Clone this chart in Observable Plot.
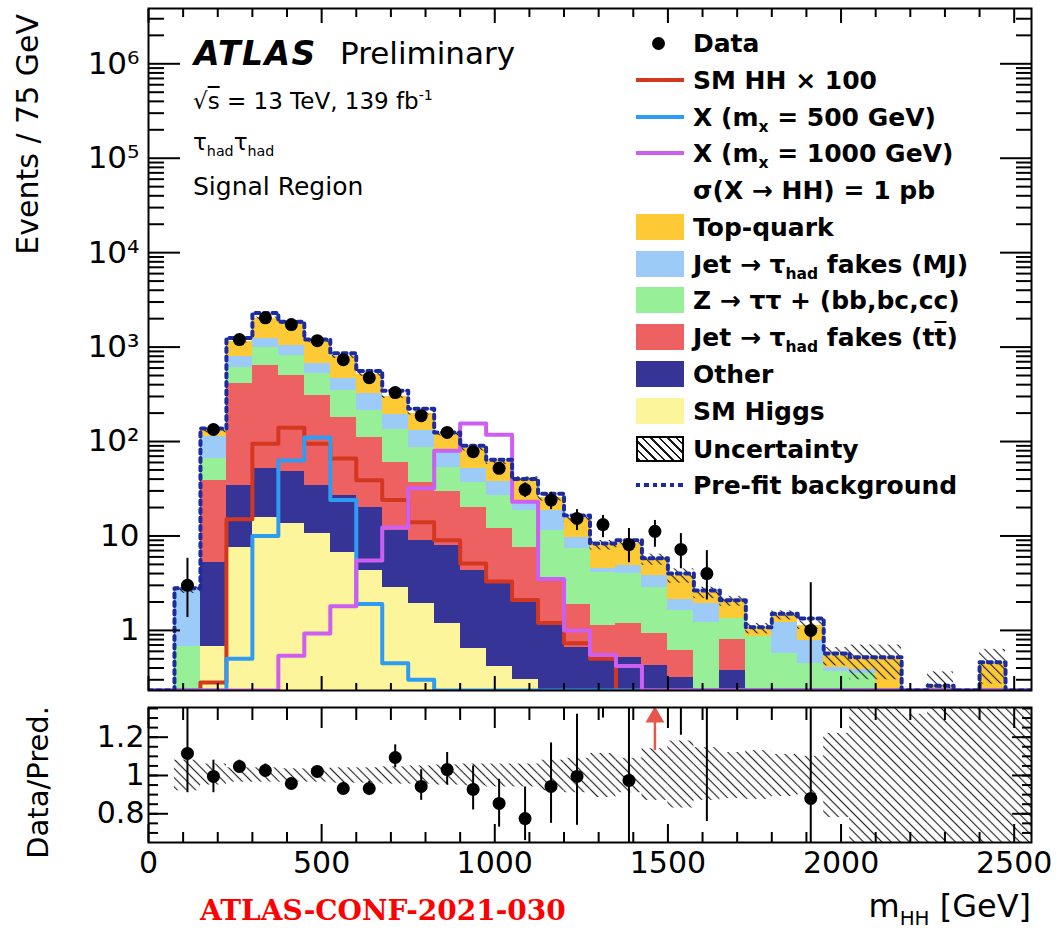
<!DOCTYPE html>
<html>
<head>
<meta charset="utf-8">
<script src="https://cdn.jsdelivr.net/npm/d3@7"></script>
<script src="https://cdn.jsdelivr.net/npm/@observablehq/plot@0.6"></script>
<style>
  html, body { margin:0; padding:0; background:#fff; }
  #chart { position:relative; width:1061px; height:931px; overflow:hidden; font-family:"DejaVu Sans", sans-serif; color:#000; }
  #chart svg { display:block; }
  .t { position:absolute; white-space:nowrap; line-height:1; }
  .t sub { font-size:0.62em; vertical-align:-0.4em; line-height:0; }
  .t sup { font-size:0.62em; vertical-align:0.6em; line-height:0; }
  .ov { text-decoration:overline; }
  .leg { font-weight:bold; font-size:25px; }
  .sw { position:absolute; }
</style>
</head>
<body>
<div id="chart"></div>
<script>
// ---------------- data (75 GeV bins, 0 - 2550 GeV) ----------------
const binWidth = 75;
const binLow = [0,75,150,225,300,375,450,525,600,675,750,825,900,975,1050,1125,1200,1275,1350,1425,1500,1575,1650,1725,1800,1875,1950,2025,2100,2175,2250,2325,2400,2475];

// background contributions (events per bin), bottom of stack first
const smHiggs    = [0,0,0.68,7.5,15.7,13.5,10.6,6.7,4.3,2.85,1.93,1.18,0.64,0.41,0.3,0,0,0,0,0,0,0,0,0,0,0,0,0,0,0,0,0,0,0];
const other      = [0,0,4.5,26.5,36,34.5,23.4,20.3,15.7,8.55,7.07,6.7,3.66,2.7,1.7,1.2,0.66,0.5,0.52,0.43,0.32,0,0.38,0,0,0,0,0,0,0,0,0,0,0];
const jetFakesTT = [0,0,33.8,376,588,452,276,153,90,48.6,28,22,15.7,8.9,5.6,2.4,1.24,0.63,0.66,0.5,0.29,0,0.42,0,0,0,0,0,0,0,0,0,0,0];
const zTauTau    = [0,0.68,27,200,350,310,215,165,105,75,49,23,17,15,11,7.8,5.5,3.0,2.8,1.9,1.02,1.2,0.55,0.87,0.57,0.45,0.37,0.35,0,0,0,0,0,0];
const jetFakesMJ = [0,2.0,47,180,250,230,145,120,105,60,45,23,15,11,4.1,7.2,2.2,0.4,0.9,1.0,0.47,0.73,0,0,0.65,0.33,0.03,0.04,0,0,0,0,0,0];
const topQuark   = [0,0,17,360,760,760,480,325,190,105,69,45,32,23,17.3,6.9,5.8,3.5,3.4,1.8,1.7,0.57,0.7,0.18,0.23,0.36,0.14,0.11,0.5,0,0.26,0,0.45,0];

// pre-fit total background
const preFit = [0,2.8,137,1250,2300,1850,1200,860,560,345,222,125,90,64,40,28,16.5,8.3,9.0,5.8,4.0,2.65,2.08,1.08,1.5,1.34,0.57,0.52,0.52,0,0.26,0,0.46,0];

// signals
const smHH100 = [0,0,0.28,15,95,140,95,66,39,24,14,9,5.1,3.3,2.1,1.2,0.73,0.5,0,0,0,0,0,0,0,0,0,0,0,0,0,0,0,0];
const xm500   = [0,0,0,0.5,10,63,110,24,1.9,0.45,0.3,0,0,0,0,0,0,0,0,0,0,0,0,0,0,0,0,0,0,0,0,0,0,0];
const xm1000  = [0,0,0,0,0,0.54,0.93,1.8,5.5,12.3,32,80,155,118,23,3.5,1.0,0.55,0.42,0,0,0,0,0,0,0,0,0,0,0,0,0,0,0];

// data
const dataEvents  = [null,3,134,1200,2040,1730,1170,735,475,330,188,125,78,52,31,24,15.3,13.2,8.1,11.2,7.2,4.0,null,null,null,1,null,null,null,null,null,null,null,null];
const dataErrLow  = [null,1.37,123,1165,1995,1690,1135,708,453,312,174,114,69,45,25.5,19,11.4,9.6,5.2,7.6,4.5,2.1,null,null,null,0.17,null,null,null,null,null,null,null,null];
const dataErrHigh = [null,5.8,146,1235,2085,1770,1205,762,497,348,202,136,87,59,36.5,29,19,16.5,12,14.6,10.6,7,null,null,null,3.2,null,null,null,null,null,null,null,null];

// ratio panel
const ratio        = [null,1.115,0.995,1.047,1.026,0.958,1.021,0.932,0.932,1.094,0.943,1.031,0.927,0.854,0.775,0.943,0.995,1.62,0.974,2.0,1.9,1.6,null,null,null,0.88,null,null,null,null,null,null,null,null];
const ratioErrLow  = [null,0.91,0.91,1.015,0.995,0.93,0.99,0.9,0.895,1.04,0.87,0.95,0.82,0.73,0.66,0.75,0.74,1.3,0.6,1.6,1.21,0.76,null,null,null,0.55,null,null,null,null,null,null,null,null];
const ratioErrHigh = [null,1.5,1.08,1.08,1.06,0.985,1.05,0.965,0.97,1.16,1.03,1.12,1.05,0.98,0.94,1.17,1.32,2.1,1.45,2.6,2.8,2.7,null,null,null,3.0,null,null,null,null,null,null,null,null];
const uncLow  = [null,0.92,0.95,0.965,0.965,0.965,0.965,0.96,0.96,0.955,0.955,0.95,0.945,0.94,0.94,0.92,0.91,0.885,0.91,0.87,0.83,0.87,0.88,0.875,0.89,0.9,0.78,0.6,0.6,0.6,0.6,0.6,0.6,0.6];
const uncHigh = [null,1.08,1.06,1.04,1.04,1.035,1.035,1.04,1.04,1.045,1.05,1.055,1.06,1.06,1.06,1.08,1.09,1.115,1.09,1.14,1.18,1.145,1.12,1.13,1.11,1.1,1.22,1.4,1.4,1.32,1.4,1.4,1.4,1.4];

// ticks
const xMajorTicks = [0,500,1000,1500,2000,2500];
const xTickLabels = ["0","500","1000","1500","2000","2500"];
const yMajorTicks = [1,10,100,1000,10000,100000,1000000];
const yTickLabels = ["1","10","10²","10³","10⁴","10⁵","10⁶"];
const ratioTicks = [0.8,1,1.2];
const ratioTickLabels = ["0.8","1","1.2"];

// legend
const legendLabels = [
  "Data",
  "SM HH &times; 100",
  "X (m<sub>x</sub> = 500 GeV)",
  "X (m<sub>x</sub> = 1000 GeV)",
  "&sigma;(X &rarr; HH) = 1 pb",
  "Top-quark",
  "Jet &rarr; &tau;<sub>had</sub> fakes (MJ)",
  "Z &rarr; &tau;&tau; + (bb,bc,cc)",
  "Jet &rarr; &tau;<sub>had</sub> fakes (t<span class='ov'>t</span>)",
  "Other",
  "SM Higgs",
  "Uncertainty",
  "Pre-fit background"
];

// ---------------- styling ----------------
const C = {
  higgs: "#fdf59b", other: "#363597", tt: "#ee6163", ztt: "#97ef97", mj: "#9ccbf8", top: "#fdc934",
  smhh: "#d4371f", x500: "#2f9cf4", x1000: "#cc5ff2", prefit: "#1c2b9e", arrow: "#e5574d"
};
const yMin = 0.231, yMax = 3.85e6, floorV = 1e-4;
const nB = binLow.length;

// ---------------- derived tables ----------------
const comps = [[smHiggs, C.higgs],[other, C.other],[jetFakesTT, C.tt],[zTauTau, C.ztt],[jetFakesMJ, C.mj],[topQuark, C.top]];
const cum = new Array(nB).fill(0);
const stackMarks = comps.map(([vals, color]) => {
  const rows = [];
  for (let i = 0; i < nB; i++) {
    const v = vals[i];
    if (v > 0) {
      rows.push({x1: binLow[i], x2: binLow[i] + binWidth, y1: Math.max(cum[i], floorV), y2: cum[i] + v});
      cum[i] += v;
    }
  }
  return Plot.rect(rows, {x1: "x1", x2: "x2", y1: "y1", y2: "y2", fill: color, shapeRendering: "crispEdges"});
});
const total = cum.slice();

const mainHatch = [];
for (let i = 0; i < nB; i++) if (total[i] > 0 && uncLow[i] != null)
  mainHatch.push({x1: binLow[i], x2: binLow[i] + binWidth, y1: total[i] * uncLow[i], y2: total[i] * uncHigh[i]});

function steps(vals) {
  const pts = [];
  for (let i = 0; i < nB; i++) {
    const v = Math.max(vals[i], floorV);
    pts.push({x: binLow[i], y: v}, {x: binLow[i] + binWidth, y: v});
  }
  return pts;
}

const dataPts = [];
for (let i = 0; i < nB; i++) if (dataEvents[i] != null)
  dataPts.push({x: binLow[i] + binWidth / 2, y: dataEvents[i], lo: Math.max(dataErrLow[i], floorV), hi: dataErrHigh[i]});

const ratioPts = [];
for (let i = 0; i < nB; i++) if (ratio[i] != null)
  ratioPts.push({x: binLow[i] + binWidth / 2, y: ratio[i], lo: ratioErrLow[i], hi: ratioErrHigh[i]});
const ratioBand = [];
for (let i = 0; i < nB; i++) if (uncLow[i] != null)
  ratioBand.push({x1: binLow[i], x2: binLow[i] + binWidth, y1: uncLow[i], y2: uncHigh[i]});

const rMin = 0.65, rMax = 1.355;
const arrowPts = ratioPts.filter(d => d.lo > rMax).map(d => ({x: d.x, from: 1.13, to: 1.29, head: 1.305}));

const yMinor = [];
for (let e = -1; e <= 6; e++) for (let m = 2; m <= 9; m++) { const v = m * Math.pow(10, e); if (v > yMin && v < yMax) yMinor.push(v); }
const xMinor = d3.range(100, 2551, 100).filter(v => v % 500 !== 0);
const rMinor = d3.range(0.7, 1.351, 0.05).map(v => +v.toFixed(2));

const fontStyle = {fontFamily: "DejaVu Sans", fontSize: "30px", color: "black", background: "white", overflow: "visible"};

// ---------------- main panel ----------------
const main = Plot.plot({
  width: 1061, height: 700,
  marginLeft: 148, marginRight: 30, marginTop: 8, marginBottom: 10,
  style: fontStyle,
  x: {domain: [0, 2550], label: null},
  y: {type: "log", domain: [yMin, yMax], clamp: true, label: null},
  marks: [
    ...stackMarks,
    Plot.rect(mainHatch, {x1: "x1", x2: "x2", y1: "y1", y2: "y2", fill: "url(#hatchMain)", clip: true}),
    Plot.line(steps(smHH100), {x: "x", y: "y", stroke: C.smhh, strokeWidth: 4, clip: true}),
    Plot.line(steps(xm500), {x: "x", y: "y", stroke: C.x500, strokeWidth: 4, clip: true}),
    Plot.line(steps(xm1000), {x: "x", y: "y", stroke: C.x1000, strokeWidth: 4, clip: true}),
    Plot.line(steps(preFit), {x: "x", y: "y", stroke: C.prefit, strokeWidth: 4, strokeDasharray: "4,4.5", clip: true}),
    Plot.ruleX(dataPts, {x: "x", y1: "lo", y2: "hi", stroke: "black", strokeWidth: 2, clip: true}),
    Plot.dot(dataPts, {x: "x", y: "y", r: 6.5, fill: "black", stroke: "none"}),
    Plot.frame({stroke: "black", strokeWidth: 2}),
    // axes (ticks pointing inwards)
    Plot.axisY({anchor: "left", ticks: yMajorTicks, tickSize: -32, strokeWidth: 2, fill: "none", label: null}),
    Plot.axisY({anchor: "left", ticks: yMinor, tickSize: -16, strokeWidth: 2, fill: "none", label: null}),
    Plot.axisY({anchor: "right", ticks: yMajorTicks, tickSize: -32, strokeWidth: 2, fill: "none", label: null}),
    Plot.axisY({anchor: "right", ticks: yMinor, tickSize: -16, strokeWidth: 2, fill: "none", label: null}),
    Plot.axisY({anchor: "left", ticks: yMajorTicks, tickSize: 0, tickPadding: 9, fontSize: 31,
      tickFormat: d => yTickLabels[yMajorTicks.indexOf(d)], label: null}),
    Plot.axisX({anchor: "bottom", ticks: xMajorTicks, tickSize: -14, strokeWidth: 2, fill: "none", label: null}),
    Plot.axisX({anchor: "bottom", ticks: xMinor, tickSize: -7, strokeWidth: 2, fill: "none", label: null}),
    Plot.axisX({anchor: "top", ticks: xMajorTicks, tickSize: -14, strokeWidth: 2, fill: "none", label: null}),
    Plot.axisX({anchor: "top", ticks: xMinor, tickSize: -8, strokeWidth: 2, fill: "none", label: null})
  ]
});

// ---------------- ratio panel ----------------
const ratioPlot = Plot.plot({
  width: 1061, height: 231,
  marginLeft: 148, marginRight: 30, marginTop: 7, marginBottom: 89,
  style: fontStyle,
  x: {domain: [0, 2550], label: null},
  y: {domain: [rMin, rMax], label: null},
  marks: [
    Plot.rect(ratioBand, {x1: "x1", x2: "x2", y1: "y1", y2: "y2", fill: "url(#hatchRatio)", clip: true}),
    Plot.ruleX(ratioPts, {x: "x", y1: "lo", y2: "hi", stroke: "black", strokeWidth: 2, clip: true}),
    Plot.dot(ratioPts, {x: "x", y: "y", r: 6.5, fill: "black", stroke: "none", clip: true}),
    Plot.ruleX(arrowPts, {x: "x", y1: "from", y2: "to", stroke: C.arrow, strokeWidth: 2.5}),
    Plot.dot(arrowPts, {x: "x", y: "head", symbol: "triangle", r: 7, fill: C.arrow, stroke: "none"}),
    Plot.frame({stroke: "black", strokeWidth: 2}),
    Plot.axisY({anchor: "left", ticks: ratioTicks, tickSize: -20, strokeWidth: 2, fill: "none", label: null}),
    Plot.axisY({anchor: "left", ticks: rMinor, tickSize: -10, strokeWidth: 2, fill: "none", label: null}),
    Plot.axisY({anchor: "right", ticks: ratioTicks, tickSize: -20, strokeWidth: 2, fill: "none", label: null}),
    Plot.axisY({anchor: "right", ticks: rMinor, tickSize: -10, strokeWidth: 2, fill: "none", label: null}),
    Plot.axisY({anchor: "left", ticks: ratioTicks, tickSize: 0, tickPadding: 4, fontSize: 30,
      tickFormat: d => ratioTickLabels[ratioTicks.indexOf(d)], label: null}),
    Plot.axisX({anchor: "bottom", ticks: xMajorTicks, tickSize: -18, strokeWidth: 2, fill: "none", label: null}),
    Plot.axisX({anchor: "bottom", ticks: xMinor, tickSize: -10, strokeWidth: 2, fill: "none", label: null}),
    Plot.axisX({anchor: "top", ticks: xMajorTicks, tickSize: -20, strokeWidth: 2, fill: "none", label: null}),
    Plot.axisX({anchor: "top", ticks: xMinor, tickSize: -12, strokeWidth: 2, fill: "none", label: null}),
    Plot.axisX({anchor: "bottom", ticks: xMajorTicks, tickSize: 0, tickPadding: 9, fontSize: 30,
      tickFormat: d => xTickLabels[xMajorTicks.indexOf(d)], label: null})
  ]
});

function addHatch(svg, id) {
  const defs = d3.select(svg).insert("defs", ":first-child");
  const p = defs.append("pattern").attr("id", id).attr("patternUnits", "userSpaceOnUse")
    .attr("width", 6.5).attr("height", 6.5).attr("patternTransform", "rotate(-45)");
  p.append("line").attr("x1", 3.25).attr("y1", -1).attr("x2", 3.25).attr("y2", 7.5)
    .attr("stroke", "#222").attr("stroke-width", 1.15);
}
addHatch(main, "hatchMain");
addHatch(ratioPlot, "hatchRatio");

const chart = document.getElementById("chart");
chart.appendChild(main);
chart.appendChild(ratioPlot);

// ---------------- text overlays ----------------
function addText(html, style, cls) {
  const d = document.createElement("div");
  d.className = "t" + (cls ? " " + cls : "");
  d.innerHTML = html;
  Object.assign(d.style, style);
  chart.appendChild(d);
  return d;
}
addText("<b><i>ATLAS</i></b>", {left: "194px", top: "37px", fontSize: "33px", letterSpacing: "1.5px"});
addText("Preliminary", {left: "340px", top: "38px", fontSize: "31px"});
addText("&radic;<span class='ov'>s</span> = 13 TeV, 139 fb<sup>-1</sup>", {left: "193px", top: "90px", fontSize: "23px"});
addText("&tau;<sub>had</sub>&tau;<sub>had</sub>", {left: "193px", top: "131px", fontSize: "23px"});
addText("Signal Region", {left: "193px", top: "174px", fontSize: "25px"});

// axis titles
addText("Events / 75 GeV", {left: "13px", top: "14px", fontSize: "30px", writingMode: "vertical-rl", transform: "rotate(180deg)"});
addText("Data/Pred.", {left: "24px", top: "706px", fontSize: "29px", writingMode: "vertical-rl", transform: "rotate(180deg)"});
addText("m<sub>HH</sub> [GeV]", {right: "30px", top: "890px", fontSize: "32px"});
addText("ATLAS-CONF-2021-030", {left: "200px", top: "897px", fontSize: "28px", fontFamily: "'DejaVu Serif', serif", fontWeight: "bold", color: "#ff0000"});

// legend
const legendY = [43, 80, 117, 153, 190, 227, 264, 300, 337, 374, 411, 449, 485];
const legendKind = ["dot","line","line","line","none","box","box","box","box","box","box","hatch","dotted"];
const legendColor = [null, C.smhh, C.x500, C.x1000, null, C.top, C.mj, C.ztt, C.tt, C.other, C.higgs, null, C.prefit];
legendLabels.forEach((lab, i) => {
  const cy = legendY[i];
  const k = legendKind[i];
  const sw = document.createElement("div");
  sw.className = "sw";
  if (k === "dot") {
    Object.assign(sw.style, {left: (658 - 6.5) + "px", top: (cy - 6.5) + "px", width: "13px", height: "13px", borderRadius: "50%", background: "#000"});
  } else if (k === "line") {
    Object.assign(sw.style, {left: "636px", top: (cy - 2) + "px", width: "48px", height: "4px", background: legendColor[i]});
  } else if (k === "box") {
    Object.assign(sw.style, {left: "636px", top: (cy - 13) + "px", width: "48px", height: "26px", background: legendColor[i]});
  } else if (k === "hatch") {
    Object.assign(sw.style, {left: "636px", top: (cy - 13) + "px", width: "44px", height: "22px", border: "2px solid #000",
      background: "repeating-linear-gradient(45deg, #1a1a1a 0 1.5px, #fff 1.5px 6px)"});
  } else if (k === "dotted") {
    Object.assign(sw.style, {left: "636px", top: (cy - 2) + "px", width: "48px", height: "4px",
      background: "repeating-linear-gradient(90deg, " + legendColor[i] + " 0 4px, transparent 4px 8.5px)"});
  }
  if (k !== "none") chart.appendChild(sw);
  addText(lab, {left: "693px", top: (cy - 12) + "px"}, "leg");
});
</script>
</body>
</html>
